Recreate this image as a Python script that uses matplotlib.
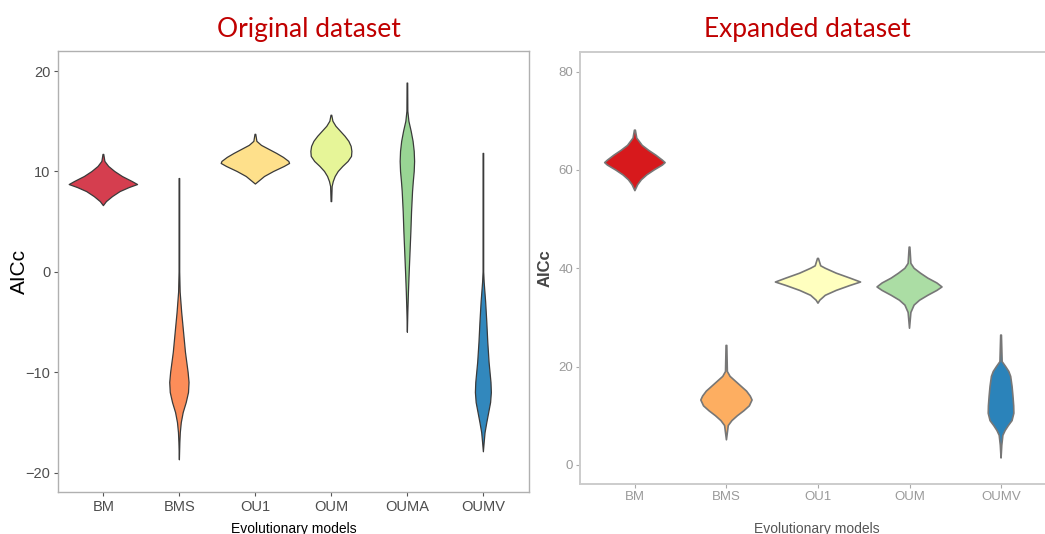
import numpy as np
import matplotlib.pyplot as plt

# --- data: y levels and violin half widths ---
orig_models = ['BM', 'BMS', 'OU1', 'OUM', 'OUMA', 'OUMV']
orig_colors = ['#d53e4f', '#fc8d59', '#fee08b', '#e6f598', '#99d594', '#3288bd']

bm_y = [11.7, 11.0, 10.5, 10.0, 9.5, 9.0, 8.7, 8.4, 8.0, 7.5, 7.0, 6.6]
bm_w = [0.005, 0.02, 0.07, 0.15, 0.25, 0.38, 0.45, 0.34, 0.22, 0.12, 0.04, 0.0]

bms_y = [9.3, 0, -2, -4, -6, -8, -10, -11, -12, -13, -14, -15, -16, -17, -18.7]
bms_w = [0.004, 0.004, 0.01, 0.03, 0.055, 0.08, 0.115, 0.127, 0.12, 0.09, 0.05, 0.025, 0.012, 0.006, 0.0]

ou1_y = [13.7, 13.0, 12.6, 12.2, 11.8, 11.4, 11.0, 10.8, 10.5, 10.0, 9.5, 9.0, 8.75]
ou1_w = [0.005, 0.02, 0.08, 0.18, 0.28, 0.37, 0.44, 0.45, 0.38, 0.24, 0.12, 0.04, 0.0]

oum_y = [15.6, 15.0, 14.5, 14.0, 13.5, 13.0, 12.5, 12.0, 11.5, 11.0, 10.5, 10.0, 9.5, 9.0, 8.5, 7.0]
oum_w = [0.005, 0.02, 0.06, 0.12, 0.18, 0.23, 0.26, 0.27, 0.265, 0.22, 0.15, 0.09, 0.05, 0.025, 0.01, 0.004]

ouma_y = [18.8, 16.0, 15.0, 14.0, 13.0, 12.0, 11.0, 10.0, 9.0, 8.0, 6.0, 4.0, 2.0, 0.0, -2.0, -4.0, -6.0]
ouma_w = [0.004, 0.006, 0.02, 0.05, 0.075, 0.09, 0.095, 0.09, 0.078, 0.068, 0.055, 0.046, 0.035, 0.024, 0.014, 0.006, 0.0]

oumv_y = [11.8, 0, -1, -3, -5, -7, -9, -11, -12, -13, -14, -15, -16, -17, -17.9]
oumv_w = [0.004, 0.004, 0.01, 0.03, 0.045, 0.058, 0.075, 0.1, 0.105, 0.095, 0.07, 0.045, 0.022, 0.01, 0.0]

orig_y = [bm_y, bms_y, ou1_y, oum_y, ouma_y, oumv_y]
orig_w = [bm_w, bms_w, ou1_w, oum_w, ouma_w, oumv_w]

exp_models = ['BM', 'BMS', 'OU1', 'OUM', 'OUMV']
exp_colors = ['#d7191c', '#fdae61', '#ffffbf', '#abdda4', '#2b83ba']

ebm_y = [68.1, 66.5, 65, 64, 63, 62, 61.5, 61, 60, 59, 58, 57, 55.8]
ebm_w = [0.005, 0.02, 0.08, 0.15, 0.23, 0.30, 0.33, 0.30, 0.21, 0.13, 0.07, 0.03, 0.0]

ebms_y = [24.3, 19, 18, 17, 16, 15, 14, 13.2, 12, 11, 10, 9, 8, 5.1]
ebms_w = [0.004, 0.01, 0.04, 0.10, 0.16, 0.22, 0.26, 0.28, 0.25, 0.19, 0.12, 0.06, 0.02, 0.0]

eou1_y = [42, 40.5, 40, 39, 38, 37.2, 36.5, 35.5, 34.5, 33.5, 32.9]
eou1_w = [0.005, 0.03, 0.08, 0.20, 0.35, 0.465, 0.35, 0.20, 0.08, 0.02, 0.0]

eoum_y = [44.3, 41, 40, 39, 38, 37, 36.2, 35.5, 34.5, 33.5, 32.5, 31, 27.8]
eoum_w = [0.004, 0.015, 0.05, 0.12, 0.20, 0.30, 0.355, 0.30, 0.20, 0.11, 0.05, 0.015, 0.0]

eoumv_y = [26.4, 21, 20, 19, 18, 16, 14, 12, 10.5, 9, 8, 7, 6, 4, 1.4]
eoumv_w = [0.004, 0.012, 0.05, 0.085, 0.105, 0.12, 0.13, 0.138, 0.14, 0.12, 0.08, 0.045, 0.02, 0.008, 0.0]

exp_y = [ebm_y, ebms_y, eou1_y, eoum_y, eoumv_y]
exp_w = [ebm_w, ebms_w, eou1_w, eoum_w, eoumv_w]


def draw_violins(ax, ys, ws, colors, edge, lw):
    for i, (y, w, c) in enumerate(zip(ys, ws, colors)):
        pos = i + 1
        y = np.asarray(y, dtype=float)
        w = np.asarray(w, dtype=float)
        px = np.concatenate([pos + w, (pos - w)[::-1]])
        py = np.concatenate([y, y[::-1]])
        ax.fill(px, py, facecolor=c, edgecolor=edge, linewidth=lw, joinstyle='round')


plt.rcParams['font.family'] = ['Liberation Sans', 'DejaVu Sans']

fig = plt.figure(figsize=(10.45, 5.34), dpi=100)

# left panel
ax1 = fig.add_axes([0.0553, 0.0787, 0.4509, 0.825])
draw_violins(ax1, orig_y, orig_w, orig_colors, '#3a3a3a', 0.9)
ax1.set_xlim(0.4, 6.6)
ax1.set_ylim(-21.9, 21.95)
ax1.set_xticks(range(1, 7))
ax1.set_xticklabels(orig_models)
ax1.set_yticks([-20, -10, 0, 10, 20])
for s in ax1.spines.values():
    s.set_color('#b0b0b0')
    s.set_linewidth(1.0)
ax1.tick_params(colors='#555555', labelcolor='#4d4d4d', labelsize=10.5, length=3, width=0.8, pad=2.5)
ax1.set_ylabel('AICc', fontsize=15, color='black')
ax1.yaxis.set_label_coords(-0.062, 0.5)
ax1.set_xlabel('Evolutionary models', fontsize=10, color='black')
ax1.xaxis.set_label_coords(0.5, -0.068)

# right panel
ax2 = fig.add_axes([0.555, 0.0936, 0.4555, 0.809])
draw_violins(ax2, exp_y, exp_w, exp_colors, '#777777', 1.2)
ax2.set_xlim(0.4, 5.6)
ax2.set_ylim(-3.9, 84)
ax2.set_xticks(range(1, 6))
ax2.set_xticklabels(exp_models)
ax2.set_yticks([0, 20, 40, 60, 80])
for s in ax2.spines.values():
    s.set_color('#cccccc')
    s.set_linewidth(1.4)
ax2.tick_params(colors='#aaaaaa', labelcolor='#9a9a9a', labelsize=9.5, length=3, width=0.8, pad=2)
ax2.set_ylabel('AICc', fontsize=12, color='#444444', fontweight='bold')
ax2.yaxis.set_label_coords(-0.057, 0.5)
ax2.set_xlabel('Evolutionary models', fontsize=10, color='#555555')
ax2.xaxis.set_label_coords(0.498, -0.088)

# panel titles
fig.text(0.296, 0.945, 'Original dataset', family=['Lato', 'DejaVu Sans'],
         fontsize=19, color='#c00000', ha='center', va='center')
fig.text(0.773, 0.945, 'Expanded dataset', family=['Lato', 'DejaVu Sans'],
         fontsize=19, color='#c00000', ha='center', va='center')

fig.savefig('out.png', dpi=100)
